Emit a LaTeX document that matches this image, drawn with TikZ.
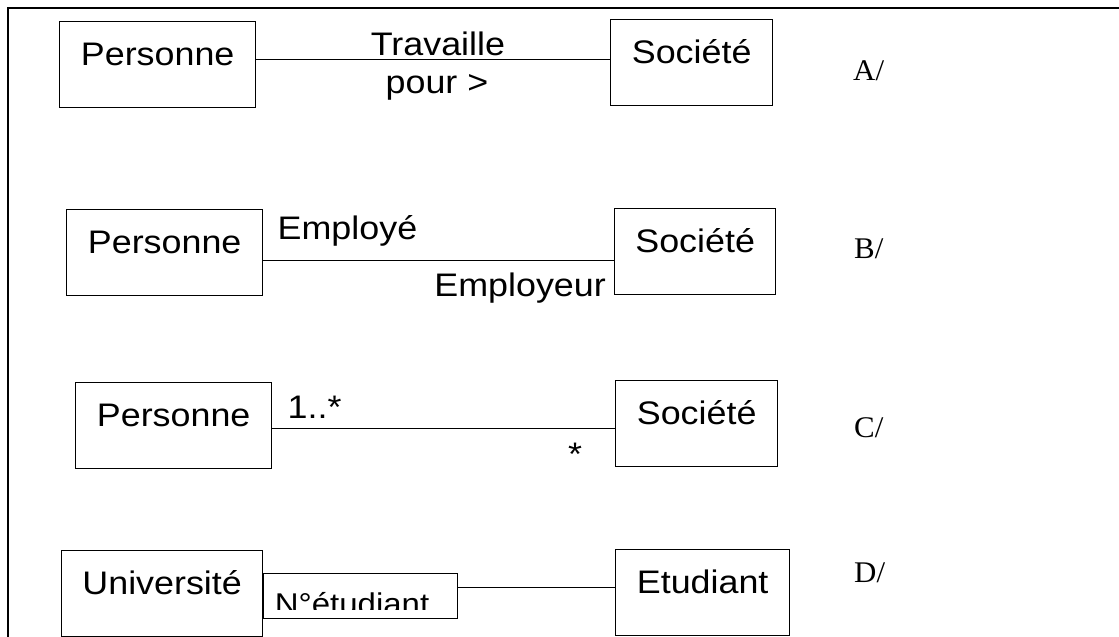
\documentclass[tikz,border=0pt]{standalone}
\usepackage{fontspec}
\setmainfont{Liberation Sans}[FakeStretch=1.1]
\newfontfamily\lettfont{Liberation Serif}[FakeStretch=1.03]
\begin{document}
\begin{tikzpicture}[x=1pt,y=-1pt,
  cls/.style={draw, line width=1.3pt, rectangle, inner sep=0pt, anchor=north west,
    text height=44pt, text depth=42pt, font=\fontsize{32.6}{39}\selectfont},
  qualbox/.style={draw, line width=1.3pt, rectangle, inner sep=0pt, anchor=north west},
  lab/.style={inner sep=0pt, font=\fontsize{32.6}{39}\selectfont},
  lett/.style={inner sep=0pt, anchor=base west, font=\lettfont\fontsize{30}{36}\selectfont},
  assoc/.style={line width=1pt},
  frame/.style={line width=2.2pt}]
\useasboundingbox (0,0) rectangle (1119,637);

% frame
\draw[frame] (8,637) -- (8,8) -- (1119,8);

% A
\node[cls, minimum width=196pt] (pa) at (59,21) {Personne};
\node[cls, minimum width=162pt] (sa) at (610,19) {Société};
\coordinate (yA) at (0,59);
\draw[assoc] (pa.east |- yA) -- (sa.west |- yA);
\node[lab, anchor=base] (trav) at (438,55) {Travaille};
\node[lab, anchor=base] (pour) at (437,93) {pour >};
\node[lett] (lA) at (853,80) {A/};

% B
\node[cls, minimum width=196pt] (pb) at (66,209) {Personne};
\node[cls, minimum width=161pt] (sb) at (614,208) {Société};
\coordinate (yB) at (0,260);
\draw[assoc] (pb.east |- yB) -- (sb.west |- yB);
\node[lab, anchor=base west] (emp) at (277.5,239) {Employé};
\node[lab, anchor=base east] (empr) at (606,296) {Employeur};
\node[lett] (lB) at (854,258) {B/};

% C
\node[cls, minimum width=196pt] (pc) at (75,382) {Personne};
\node[cls, minimum width=162pt] (sc) at (615,380) {Société};
\coordinate (yC) at (0,428.7);
\draw[assoc] (pc.east |- yC) -- (sc.west |- yC);
\node[lab, anchor=base west] (m1) at (287.5,418) {1..*};
\node[lab, anchor=base] (m2) at (575,465) {*};
\node[lett] (lC) at (854,437) {C/};

% D
\node[cls, minimum width=201pt] (un) at (61,550) {Université};
\node[qualbox, minimum width=194pt, minimum height=45pt] (qual) at (263,573) {};
\node[cls, minimum width=174pt] (et) at (615,549) {Etudiant};
\coordinate (yD) at (0,587.7);
\draw[assoc] (qual.east |- yD) -- (et.west |- yD);
\begin{scope}
  \clip (263,573) rectangle (457,609);
  \node[lab, font=\fontsize{30}{36}\selectfont, anchor=base] (qtxt) at (352,614) {N°étudiant};
\end{scope}
\node[lett] (lD) at (854,582) {D/};
\end{tikzpicture}
\end{document}
